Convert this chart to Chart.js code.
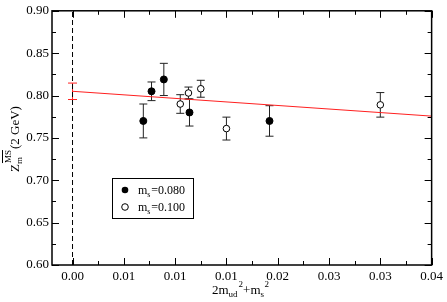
<!DOCTYPE html>
<html lang="en">
<head>
<meta charset="UTF-8">
<title>Z_m fit</title>
<script src="https://cdn.jsdelivr.net/npm/chart.js@4.4.1/dist/chart.umd.min.js"></script>
<style>
  html, body { margin: 0; padding: 0; background: #fff; }
  #wrap { width: 447px; height: 302px; }
</style>
</head>
<body>
<div id="wrap"><canvas id="chart" width="447" height="302"></canvas></div>
<script>
// ms = 0.080 (filled circles)
const xFilled = [0.0069, 0.0077, 0.0089, 0.0114, 0.0192];
const yFilled = [0.770, 0.805, 0.819, 0.780, 0.770];
const eFilled = [0.020, 0.011, 0.019, 0.016, 0.018];
// ms = 0.100 (open circles)
const xOpen = [0.0105, 0.0113, 0.0125, 0.0150, 0.0300];
const yOpen = [0.790, 0.803, 0.808, 0.761, 0.789];
const eOpen = [0.011, 0.007, 0.010, 0.0135, 0.0145];
// linear fit and its value at 0
const fitX = [0, 0.035];
const fitY = [0.805, 0.7757];
const fitErr = 0.0097;
// axis ticks
const xMajor = [0, 0.005, 0.010, 0.015, 0.020, 0.025, 0.030, 0.035];
const xTickLabels = ['0.00', '0.01', '0.01', '0.01', '0.02', '0.03', '0.03', '0.04'];
const yMajor = [0.60, 0.65, 0.70, 0.75, 0.80, 0.85, 0.90];
const yTickLabels = ['0.60', '0.65', '0.70', '0.75', '0.80', '0.85', '0.90'];
const legendLabels = ['0.080', '0.100'];

const serif = "'Liberation Serif', 'Times New Roman', serif";

function pts(xs, ys) { return xs.map((x, i) => ({ x: x, y: ys[i] })); }

// error bars, drawn under the markers
const errorBars = {
  id: 'errorBars',
  beforeDatasetsDraw(chart) {
    const { ctx, scales: { x, y } } = chart;
    const bar = (xv, yv, e, color, cap) => {
      const px = x.getPixelForValue(xv);
      const top = y.getPixelForValue(yv + e);
      const bot = y.getPixelForValue(yv - e);
      ctx.strokeStyle = color;
      ctx.lineWidth = 1;
      ctx.beginPath();
      ctx.moveTo(px, top); ctx.lineTo(px, bot);
      ctx.moveTo(px - cap, top); ctx.lineTo(px + cap, top);
      ctx.moveTo(px - cap, bot); ctx.lineTo(px + cap, bot);
      ctx.stroke();
    };
    ctx.save();
    xFilled.forEach((v, i) => bar(v, yFilled[i], eFilled[i], '#222', 4));
    xOpen.forEach((v, i) => bar(v, yOpen[i], eOpen[i], '#222', 4));
    bar(fitX[0], fitY[0], fitErr, '#ff2020', 4.5);
    ctx.restore();
  }
};

// frame, inward ticks on all sides, titles, legend
const decor = {
  id: 'decor',
  afterDraw(chart) {
    const { ctx, chartArea: a, scales: { x, y } } = chart;
    ctx.save();
    ctx.strokeStyle = '#000';
    ctx.lineWidth = 1.5;
    ctx.strokeRect(a.left, a.top, a.right - a.left, a.bottom - a.top);
    ctx.lineWidth = 1;
    ctx.beginPath();
    x.ticks.forEach(t => {
      const px = Math.round(x.getPixelForValue(t.value)) + 0.5;
      const len = xMajor.some(m => Math.abs(m - t.value) < 1e-9) ? 7 : 4;
      ctx.moveTo(px, a.bottom); ctx.lineTo(px, a.bottom - len);
      ctx.moveTo(px, a.top); ctx.lineTo(px, a.top + len);
    });
    y.ticks.forEach(t => {
      const py = Math.round(y.getPixelForValue(t.value)) + 0.5;
      const len = yMajor.some(m => Math.abs(m - t.value) < 1e-9) ? 7 : 4;
      ctx.moveTo(a.left, py); ctx.lineTo(a.left + len, py);
      ctx.moveTo(a.right, py); ctx.lineTo(a.right - len, py);
    });
    ctx.stroke();

    ctx.fillStyle = '#000';
    ctx.textBaseline = 'alphabetic';
    // x title: 2m_ud^2 + m_s^2
    let cx = 212, by = 294;
    const put = (s, size, dy) => {
      ctx.font = size + 'px ' + serif;
      ctx.fillText(s, cx, by + dy);
      cx += ctx.measureText(s).width;
    };
    put('2m', 13, 0); const sx = cx; put('ud', 9, 3);
    cx = sx + 10; put('2', 9, -7);
    put('+m', 13, 0); const sx2 = cx; put('s', 9, 3);
    cx = sx2 + 4; put('2', 9, -7);

    // y title, rotated
    ctx.save();
    ctx.translate(19, 172);
    ctx.rotate(-Math.PI / 2);
    cx = 0; by = 0;
    put('Z', 13, 0);
    const mx = cx; put('m', 9, 3);
    cx = mx + 1;
    ctx.font = '9px ' + serif;
    const msW = ctx.measureText('MS').width;
    ctx.fillText('MS', cx, -8);
    ctx.beginPath();
    ctx.moveTo(cx, -16.5); ctx.lineTo(cx + msW, -16.5);
    ctx.stroke();
    cx += msW + 1;
    put('(2 GeV)', 13, 0);
    ctx.restore();

    // legend box
    const lx = 112, ly = 178, lw = 81, lh = 40;
    ctx.strokeStyle = '#000';
    ctx.lineWidth = 1;
    ctx.strokeRect(lx + 0.5, ly + 0.5, lw, lh);
    const rows = [ly + 12, ly + 29];
    rows.forEach((ry, i) => {
      ctx.beginPath();
      ctx.arc(lx + 13, ry, 3.3, 0, Math.PI * 2);
      if (i === 0) { ctx.fillStyle = '#000'; ctx.fill(); }
      else { ctx.fillStyle = '#fff'; ctx.fill(); ctx.strokeStyle = '#000'; ctx.stroke(); }
      ctx.fillStyle = '#000';
      cx = lx + 26; by = ry + 4;
      put('m', 12, 0);
      const s0 = cx; put('s', 8, 3);
      cx = s0 + 4;
      put('=' + legendLabels[i], 12, 0);
    });
    ctx.restore();
  }
};

new Chart(document.getElementById('chart'), {
  type: 'scatter',
  data: {
    datasets: [
      {
        label: 'zero',
        type: 'line',
        data: [{ x: 0, y: 0.60 }, { x: 0, y: 0.90 }],
        borderColor: '#000',
        borderWidth: 1,
        borderDash: [5, 3],
        pointRadius: 0,
        showLine: true
      },
      {
        label: 'fit',
        type: 'line',
        data: pts(fitX, fitY),
        borderColor: '#ff2020',
        borderWidth: 1,
        pointRadius: 0,
        showLine: true
      },
      {
        label: 'ms=0.080',
        data: pts(xFilled, yFilled),
        backgroundColor: '#000',
        borderColor: '#000',
        pointRadius: 3.5,
        borderWidth: 1
      },
      {
        label: 'ms=0.100',
        data: pts(xOpen, yOpen),
        backgroundColor: '#fff',
        borderColor: '#000',
        pointRadius: 3.3,
        borderWidth: 1
      }
    ]
  },
  options: {
    responsive: false,
    animation: false,
    layout: { padding: { top: 6, right: 12, left: 0, bottom: 0 } },
    plugins: { legend: { display: false }, tooltip: { enabled: false } },
    scales: {
      x: {
        type: 'linear',
        min: -0.002,
        max: 0.035,
        grid: { display: false, drawTicks: false },
        border: { display: false },
        afterBuildTicks(scale) {
          const t = [];
          for (let i = 0; i <= 14; i++) t.push({ value: i * 0.0025 });
          scale.ticks = t;
        },
        afterFit(scale) { scale.height = 37; },
        ticks: {
          padding: 4,
          autoSkip: false,
          maxRotation: 0,
          color: '#000',
          font: { family: serif, size: 13 },
          callback(value) {
            const k = xMajor.findIndex(m => Math.abs(m - value) < 1e-9);
            return k >= 0 ? xTickLabels[k] : '';
          }
        }
      },
      y: {
        type: 'linear',
        min: 0.60,
        max: 0.90,
        grid: { display: false, drawTicks: false },
        border: { display: false },
        afterBuildTicks(scale) {
          const t = [];
          for (let i = 0; i <= 12; i++) t.push({ value: 0.60 + i * 0.025 });
          scale.ticks = t;
        },
        afterFit(scale) { scale.width = 52; },
        ticks: {
          padding: 3,
          autoSkip: false,
          color: '#000',
          font: { family: serif, size: 13 },
          callback(value) {
            const k = yMajor.findIndex(m => Math.abs(m - value) < 1e-9);
            return k >= 0 ? yTickLabels[k] : '';
          }
        }
      }
    }
  },
  plugins: [errorBars, decor]
});
</script>
</body>
</html>
